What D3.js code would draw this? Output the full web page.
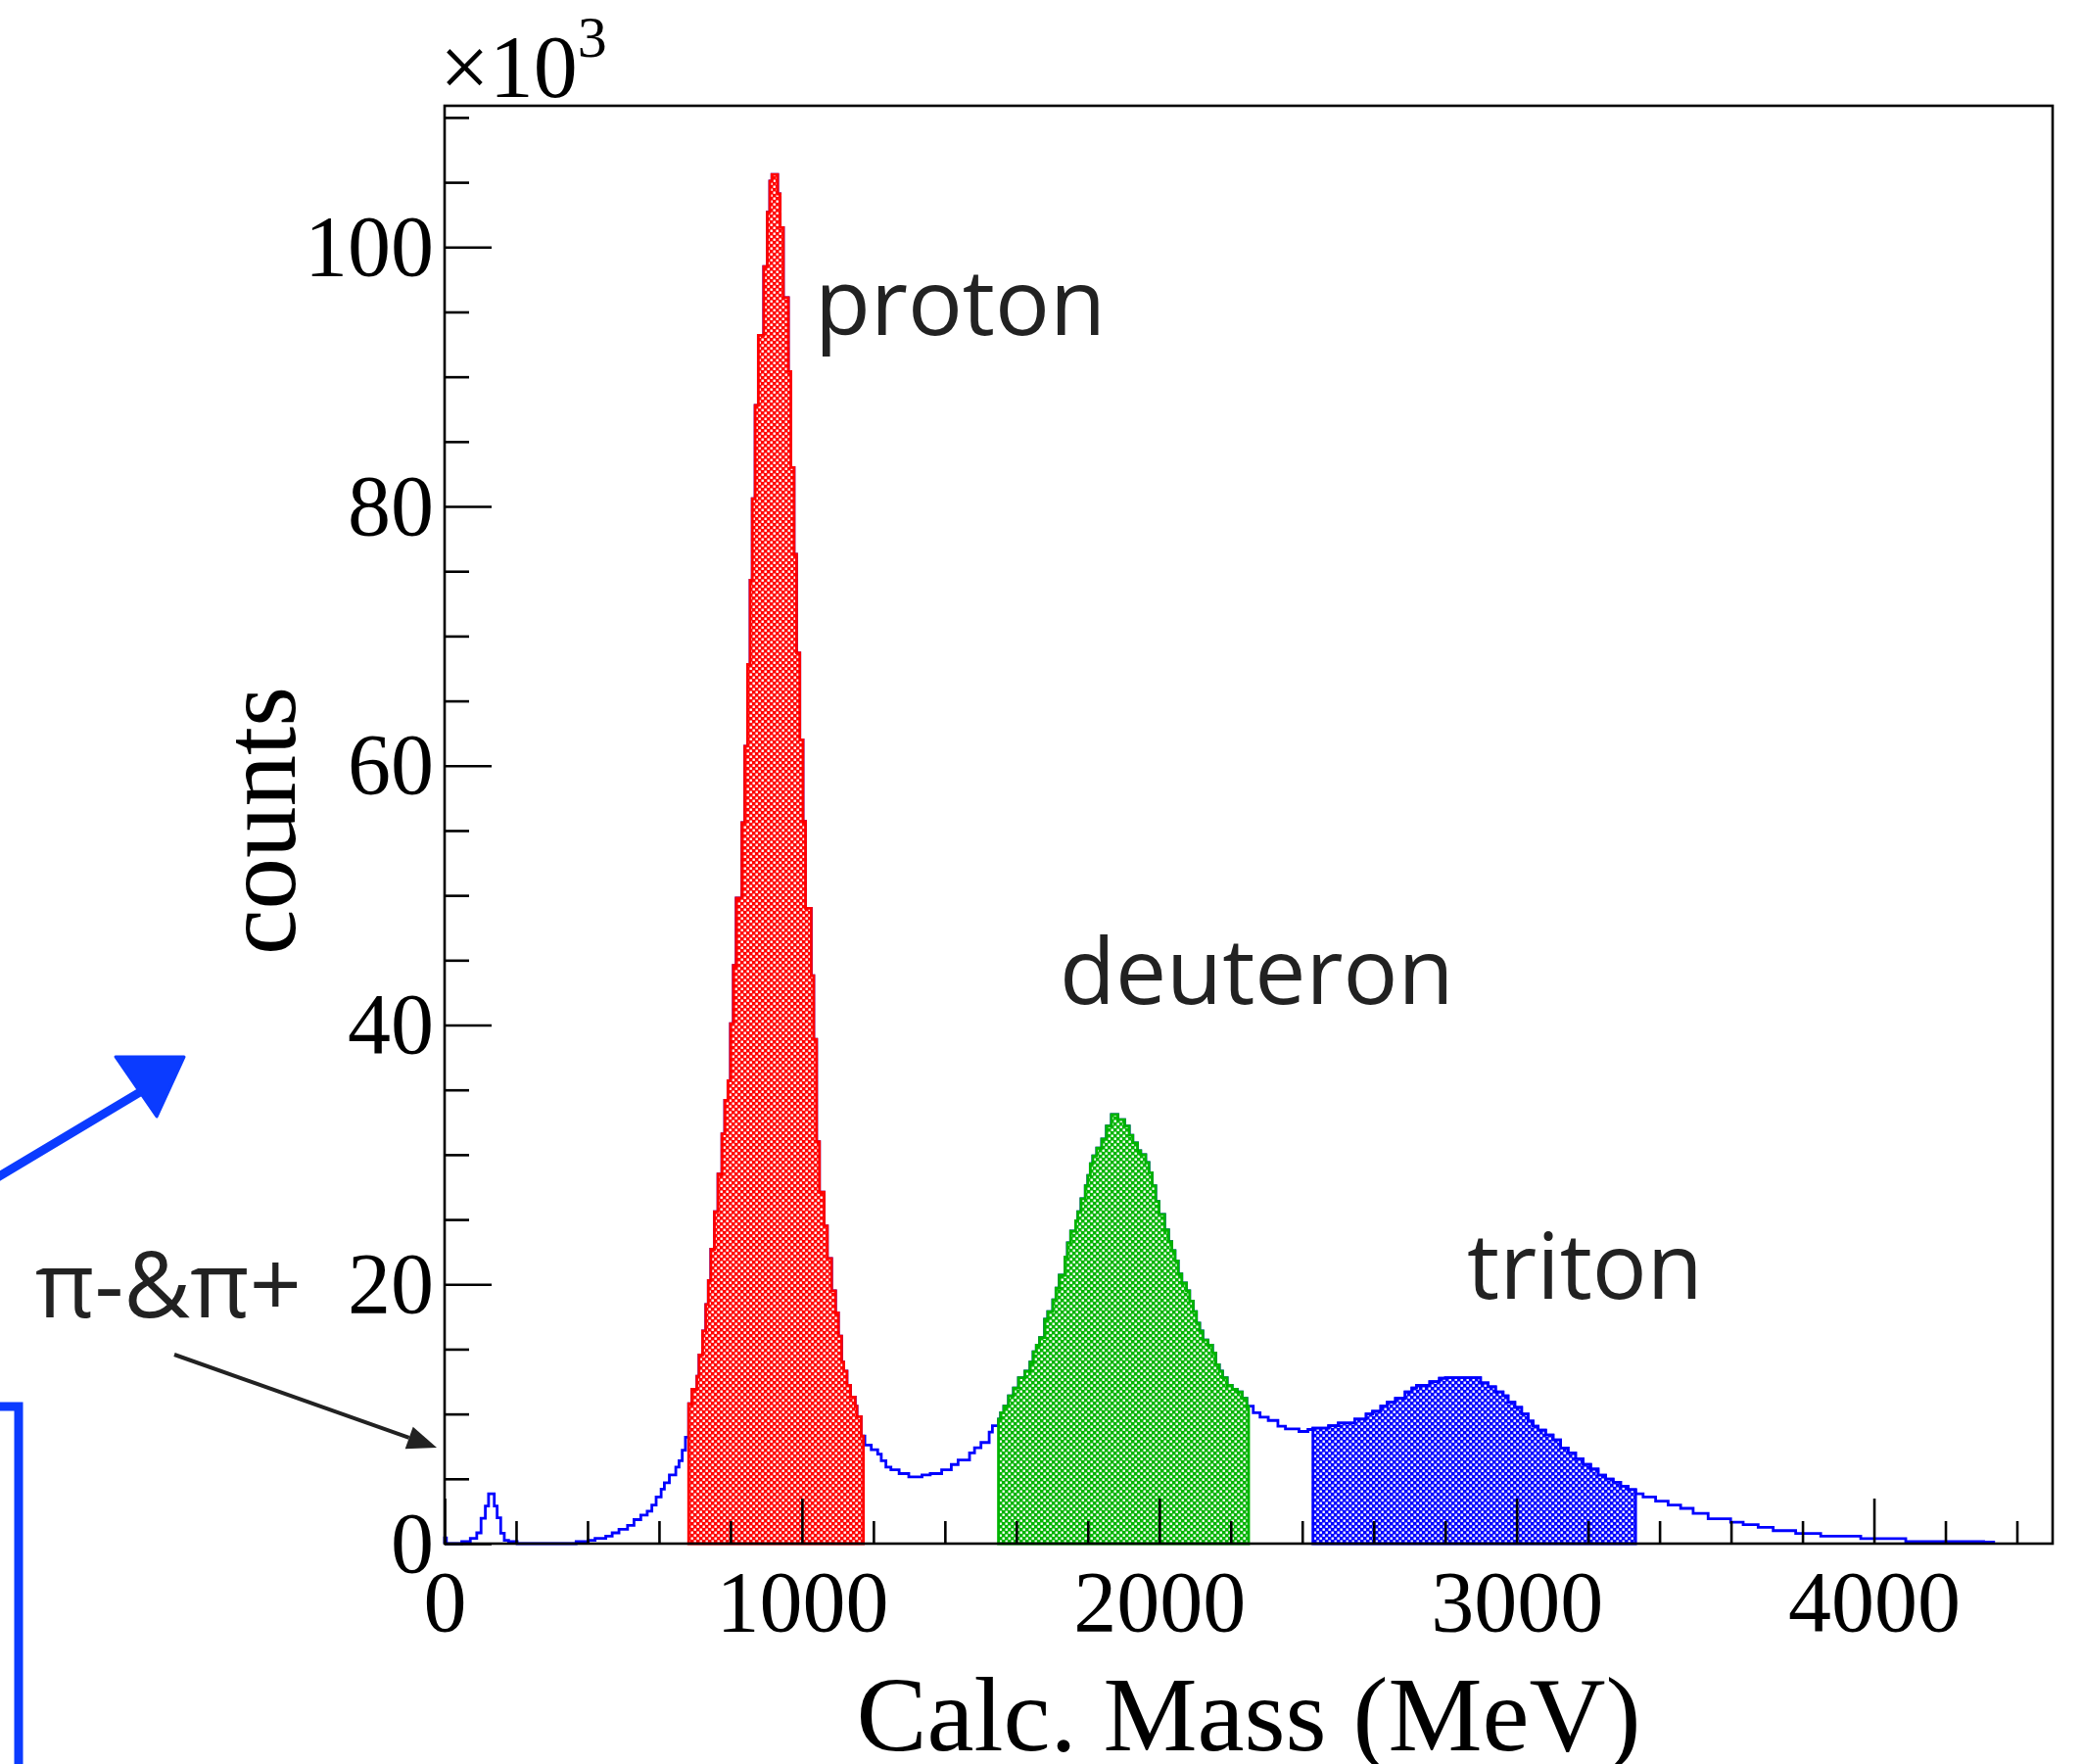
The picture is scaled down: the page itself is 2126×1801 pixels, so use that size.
<!DOCTYPE html>
<html>
<head>
<meta charset="utf-8">
<script src="https://cdn.jsdelivr.net/npm/d3@7"></script>
<style>
html, body { margin: 0; padding: 0; background: #fff; }
svg { display: block; }
</style>
</head>
<body>
<svg id="chart" width="2126" height="1801"></svg>
<script>
// Calc. mass histogram, counts in units of 10^3, bin left edges in MeV
var pionEdges  = [0, 5, 48, 72, 90, 102, 114, 123, 139, 147, 157, 167, 179, 203];
var pionCounts = [0.45, 0, 0.15, 0.4, 0.83, 1.96, 2.9, 3.85, 2.9, 2.0, 0.8, 0.25, 0.15, 0];

var riseEdges  = [368, 402, 421, 451, 469, 488, 512, 530, 549, 567, 580, 592, 606, 615, 629, 647, 656, 665, 674];
var riseCounts = [0.15, 0.25, 0.4, 0.58, 0.83, 1.1, 1.4, 1.85, 2.2, 2.5, 2.97, 3.6, 4.2, 4.7, 5.3, 5.9, 6.4, 7.2, 8.2];

var protonUpEdges  = [683, 692, 706, 712, 722, 731, 738, 745, 755, 765, 776, 784, 793, 800, 808, 816, 832, 840, 848, 855, 861, 869, 878, 893, 903, 910, 916];
var protonUpCounts = [10.8, 11.9, 12.9, 14.55, 16.4, 18.45, 20.3, 22.7, 25.6, 28.5, 31.6, 34.2, 35.7, 40.1, 44.6, 49.8, 55.6, 61.5, 67.8, 74.3, 80.6, 87.8, 93.2, 98.5, 102.7, 105.1, 105.6];

var protonDownEdges  = [932, 939, 948, 962, 969, 978, 985, 994, 1003, 1010, 1026, 1033, 1041, 1049, 1062, 1071, 1083, 1094, 1102, 1111, 1117, 1126, 1136, 1149, 1154];
var protonDownCounts = [104.1, 101.5, 96.1, 90.4, 83.0, 76.3, 68.7, 62.0, 55.7, 49.0, 43.8, 38.9, 31.0, 27.1, 24.5, 22.0, 19.5, 17.8, 16.0, 14.0, 13.3, 12.2, 11.3, 10.6, 9.8];

var valleyEdges  = [1166, 1176, 1194, 1212, 1222, 1235, 1249, 1272, 1299, 1336, 1359, 1391, 1418, 1437, 1469, 1483, 1501, 1524, 1533];
var valleyCounts = [8.3, 7.6, 7.25, 6.9, 6.4, 5.9, 5.7, 5.4, 5.15, 5.3, 5.4, 5.7, 6.1, 6.45, 7.0, 7.4, 7.8, 8.6, 9.1];

var deutUpEdges  = [1550, 1556, 1565, 1578, 1592, 1606, 1624, 1638, 1647, 1656, 1665, 1679, 1688, 1702, 1711, 1720, 1736, 1743, 1752, 1766, 1772, 1781, 1793, 1800, 1807, 1814, 1825, 1839, 1852, 1866];
var deutUpCounts = [9.6, 10.1, 10.6, 11.4, 12.0, 12.8, 13.3, 14.0, 14.8, 15.3, 15.9, 17.3, 17.9, 18.8, 19.7, 20.7, 22.1, 23.2, 24.1, 24.9, 25.6, 26.6, 27.6, 28.4, 29.3, 29.9, 30.5, 31.2, 32.2, 33.1];

var deutDownEdges  = [1884, 1903, 1916, 1926, 1939, 1948, 1962, 1971, 1980, 1990, 1999, 2015, 2026, 2035, 2044, 2053, 2063, 2076, 2085, 2095, 2104, 2113, 2122, 2136, 2149, 2158, 2168, 2177, 2190, 2204, 2218, 2232, 2245];
var deutDownCounts = [32.7, 32.2, 31.5, 30.9, 30.3, 30.0, 29.4, 28.6, 27.6, 26.4, 25.4, 24.2, 23.3, 22.6, 21.8, 20.8, 20.1, 19.5, 18.7, 17.9, 17.0, 16.4, 15.7, 15.3, 14.7, 13.8, 13.3, 12.8, 12.2, 11.9, 11.7, 11.2, 10.6];

var gapEdges  = [2250, 2263, 2282, 2305, 2332, 2353, 2391, 2416];
var gapCounts = [10.6, 10.1, 9.75, 9.5, 9.06, 8.85, 8.65, 8.8];

var tritonEdges  = [2430, 2474, 2501, 2547, 2579, 2597, 2620, 2638, 2661, 2688, 2707, 2720, 2757, 2784, 2801, 2899, 2920, 2941, 2962, 2976, 2995, 3014, 3032, 3046, 3060, 3081, 3102, 3123, 3144, 3165, 3186, 3207, 3228, 3249, 3270, 3291, 3312];
var tritonCounts = [8.9, 9.1, 9.3, 9.6, 10.0, 10.2, 10.6, 10.9, 11.2, 11.7, 12.0, 12.2, 12.5, 12.75, 12.8, 12.4, 12.1, 11.7, 11.4, 10.9, 10.5, 10.0, 9.46, 9.06, 8.76, 8.38, 8.0, 7.37, 7.0, 6.54, 6.1, 5.74, 5.28, 4.98, 4.73, 4.43, 4.17];

var tailEdges  = [3333, 3354, 3389, 3424, 3459, 3494, 3536, 3599, 3634, 3676, 3718, 3781, 3851, 3963, 4089, 4307];
var tailCounts = [3.85, 3.6, 3.27, 2.97, 2.72, 2.34, 1.91, 1.66, 1.46, 1.26, 1.0, 0.78, 0.58, 0.38, 0.15, 0.12];

var histEnd = 4335;

// selection cuts (MeV) for the filled regions
var cutNames = ["proton", "deuteron", "triton"];
var cutLow   = [683, 1550, 2430];
var cutHigh  = [1172, 2250, 3333];

var xMajorTicks = [0, 1000, 2000, 3000, 4000];
var yMajorTicks = [0, 20, 40, 60, 80, 100];

var edges = [].concat(pionEdges, riseEdges, protonUpEdges, protonDownEdges, valleyEdges,
  deutUpEdges, deutDownEdges, gapEdges, tritonEdges, tailEdges, [histEnd]);
var counts = [].concat(pionCounts, riseCounts, protonUpCounts, protonDownCounts, valleyCounts,
  deutUpCounts, deutDownCounts, gapCounts, tritonCounts, tailCounts);

var bins = counts.map(function(c, i) { return {x0: edges[i], x1: edges[i + 1], c: c}; });

var svg = d3.select("#chart");
var frameL = 454, frameR = 2096, frameT = 108, frameB = 1576;

var x = d3.scaleLinear().domain([0, 4500]).range([frameL, frameR]);
var y = d3.scaleLinear().domain([0, 110.9]).range([frameB, frameT]);

var serif = "'Liberation Serif', 'Times New Roman', serif";
var sans = "'Open Sans', 'Noto Sans', sans-serif";
var cutColors = ["#ff0000", "#00b400", "#0000ff"];

// checker hatch like ROOT fill style
var defs = svg.append("defs");
cutColors.forEach(function(col, i) {
  var p = defs.append("pattern").attr("id", "hatch" + i)
    .attr("patternUnits", "userSpaceOnUse").attr("width", 6).attr("height", 6);
  p.append("rect").attr("width", 6).attr("height", 6).attr("fill", col);
  p.append("rect").attr("x", 0.5).attr("y", 0.5).attr("width", 2.4).attr("height", 2.4).attr("fill", "#fff");
  p.append("rect").attr("x", 3.5).attr("y", 3.5).attr("width", 2.4).attr("height", 2.4).attr("fill", "#fff");
});

function stepPoints(lo, hi) {
  var pts = [];
  bins.forEach(function(b) {
    var a = Math.max(b.x0, lo), e = Math.min(b.x1, hi);
    if (e <= a) return;
    pts.push([x(a), y(b.c)]);
    pts.push([x(e), y(b.c)]);
  });
  return pts;
}

var line = d3.line();

// full histogram outline
var all = [[x(0), y(0)]].concat(stepPoints(0, histEnd), [[x(histEnd), y(0)]]);
svg.append("path")
  .attr("d", line(all))
  .attr("fill", "none")
  .attr("stroke", "#0000ff")
  .attr("stroke-width", 2.8)
  .attr("stroke-linejoin", "miter");

// filled selections
cutNames.forEach(function(name, i) {
  var pts = [[x(cutLow[i]), y(0)]].concat(stepPoints(cutLow[i], cutHigh[i]), [[x(cutHigh[i]), y(0)]]);
  svg.append("path")
    .attr("class", "cut-" + name)
    .attr("d", line(pts) + "Z")
    .attr("fill", "url(#hatch" + i + ")")
    .attr("stroke", cutColors[i])
    .attr("stroke-width", 2.8);
});

// axes (ticks pointing inside the frame)
function styleAxis(g) {
  g.select(".domain").remove();
  g.selectAll(".tick line").attr("stroke", "#000").attr("stroke-width", 2.6);
  g.selectAll("text").attr("fill", "#000").style("font-family", serif).style("font-size", "88px");
}

var xMinor = d3.range(0, 4500, 200).filter(function(v) { return v % 1000 !== 0; });
svg.append("g").attr("transform", "translate(0," + frameB + ")")
  .call(d3.axisBottom(x).tickValues(xMinor).tickSize(-23).tickFormat(""))
  .call(styleAxis);
svg.append("g").attr("transform", "translate(0," + frameB + ")")
  .call(d3.axisBottom(x).tickValues(xMajorTicks).tickSize(-46).tickPadding(27).tickFormat(d3.format("d")))
  .call(styleAxis);

var yMinor = d3.range(0, 111, 5).filter(function(v) { return v % 20 !== 0; });
svg.append("g").attr("transform", "translate(" + frameL + ",0)")
  .call(d3.axisLeft(y).tickValues(yMinor).tickSize(-25).tickFormat(""))
  .call(styleAxis);
svg.append("g").attr("transform", "translate(" + frameL + ",0)")
  .call(d3.axisLeft(y).tickValues(yMajorTicks).tickSize(-48).tickPadding(11).tickFormat(d3.format("d")))
  .call(styleAxis);

// frame
svg.append("rect")
  .attr("x", frameL).attr("y", frameT)
  .attr("width", frameR - frameL).attr("height", frameB - frameT)
  .attr("fill", "none").attr("stroke", "#000").attr("stroke-width", 2.6);

// exponent
var expo = svg.append("text").attr("x", 449).attr("y", 99)
  .style("font-family", serif).style("font-size", "90px").attr("fill", "#000");
expo.append("tspan").text("\u00d710");
expo.append("tspan").attr("dy", -41).style("font-size", "60px").text("3");

// axis titles
svg.append("text")
  .attr("transform", "translate(301,838) rotate(-90)")
  .attr("text-anchor", "middle")
  .style("font-family", serif).style("font-size", "105px")
  .text("counts");

svg.append("text")
  .attr("x", (frameL + frameR) / 2).attr("y", 1787)
  .attr("text-anchor", "middle")
  .style("font-family", serif).style("font-size", "108px")
  .text("Calc. Mass (MeV)");

// particle labels
var labelPos = {proton: [832, 342], deuteron: [1082, 1025], triton: [1498, 1326]};
cutNames.forEach(function(name) {
  svg.append("text")
    .attr("x", labelPos[name][0]).attr("y", labelPos[name][1])
    .style("font-family", sans).style("font-size", "93px")
    .attr("fill", "#222")
    .text(name);
});

svg.append("text")
  .attr("x", 36).attr("y", 1345)
  .style("font-family", sans).style("font-size", "93px")
  .attr("fill", "#222")
  .text("\u03c0-&\u03c0+");

// black arrow to the pion bump
var a0 = [178, 1383], a1 = [446, 1478];
var dx = a1[0] - a0[0], dy = a1[1] - a0[1], len = Math.sqrt(dx * dx + dy * dy);
var ux = dx / len, uy = dy / len;
var hb = [a1[0] - 30 * ux, a1[1] - 30 * uy];
svg.append("line")
  .attr("x1", a0[0]).attr("y1", a0[1]).attr("x2", hb[0]).attr("y2", hb[1])
  .attr("stroke", "#222").attr("stroke-width", 4);
svg.append("path")
  .attr("d", "M" + a1 + "L" + [hb[0] - 12 * uy, hb[1] + 12 * ux] + "L" + [hb[0] + 12 * uy, hb[1] - 12 * ux] + "Z")
  .attr("fill", "#222");

// hand drawn blue marks on the left
var ink = "#0b3bff";
svg.append("line")
  .attr("x1", -4).attr("y1", 1203).attr("x2", 148).attr("y2", 1112)
  .attr("stroke", ink).attr("stroke-width", 9).attr("stroke-linecap", "round");
svg.append("path")
  .attr("d", "M118,1079L188,1079L160,1140Z")
  .attr("fill", ink).attr("stroke", ink).attr("stroke-width", 3).attr("stroke-linejoin", "round");
svg.append("path")
  .attr("d", "M0,1436H19V1805")
  .attr("fill", "none").attr("stroke", ink).attr("stroke-width", 9);
</script>
</body>
</html>
